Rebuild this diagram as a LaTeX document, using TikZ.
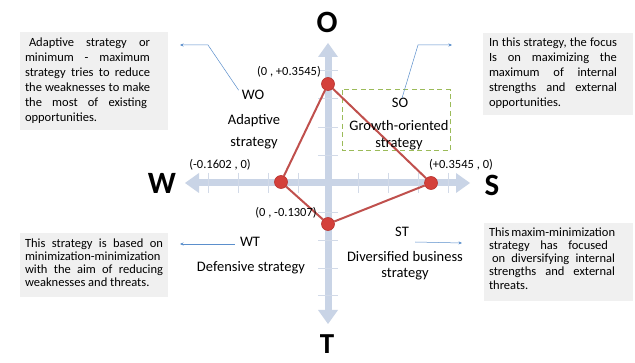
\documentclass[tikz,border=0pt]{standalone}
\usepackage{fontspec}
\setmainfont{Carlito}
\usetikzlibrary{arrows.meta}
\definecolor{axisc}{HTML}{C9D4E6}
\definecolor{tickc}{HTML}{D2DAE8}
\definecolor{boxgray}{HTML}{F0F0F0}
\definecolor{redl}{HTML}{C0504D}
\definecolor{dotfill}{HTML}{D4403B}
\definecolor{dotdraw}{HTML}{B8322E}
\definecolor{connc}{HTML}{5B8FCC}
\definecolor{dashc}{HTML}{9BBB59}
\tikzset{
  dot/.style={circle, fill=dotfill, draw=dotdraw, line width=0.6pt, minimum size=13pt, inner sep=0pt},
  redline/.style={draw=redl, line width=2pt},
  lbl/.style={inner sep=0pt, font=\fontsize{14.5}{17}\selectfont, text height=9.3pt, text depth=0pt},
  clbl/.style={inner sep=0pt, font=\fontsize{12.5}{15}\selectfont, text height=8pt, text depth=0pt},
  bigl/.style={inner sep=0pt, font=\bfseries\fontsize{31}{31}\selectfont, text height=20pt, text depth=0pt},
  tbox/.style={fill=boxgray, inner sep=0pt, outer sep=0pt, anchor=north west},
  conn/.style={draw=connc, line width=0.5pt, -{Stealth[length=3.5pt,width=3pt]}},
  dashbox/.style={draw=dashc, line width=1pt, dash pattern=on 5pt off 3.5pt},
  tickline/.style={draw=tickc, line width=0.8pt}
}
\begin{document}
\begin{tikzpicture}[x=1pt,y=-1pt]
\useasboundingbox[fill=white] (0,0) rectangle (635,363);
% axes
\fill[axisc] (324.5,55) rectangle (331.5,312);
\fill[axisc] (328,43) -- (338,57) -- (318,57) -- cycle;
\fill[axisc] (328,324) -- (338,310) -- (318,310) -- cycle;
\fill[axisc] (197,179.5) rectangle (459,186.5);
\fill[axisc] (185,183) -- (199,173) -- (199,193) -- cycle;
\fill[axisc] (470,183) -- (456,173) -- (456,193) -- cycle;
% ticks
\foreach \ty in {70,98,127,155,212,240,268,295}{\draw[tickline] (318,\ty) -- (338,\ty);}
\foreach \tx in {208,238,268,298,358,388,418,448}{\draw[tickline] (\tx,173) -- (\tx,193);}
% dashed box
\draw[dashbox] (342,90) rectangle (450,151);
% dots and polygon
\node[dot] (pt) at (328,84) {};
\node[dot] (pl) at (281,182) {};
\node[dot] (pr) at (431,183) {};
\node[dot] (pb) at (328,224) {};
\draw[redline] (pt) -- (pr);
\draw[redline] (pr) -- (pb);
\draw[redline] (pb) -- (pl);
\draw[redline] (pl) -- (pt);
% big letters
\node[bigl] (lo) at (327,23) {O};
\node[bigl] (lw) at (162,184) {W};
\node[bigl] (ls) at (492,186) {S};
\node[bigl, font=\bfseries\fontsize{29}{29}\selectfont] (lt) at (327,344) {T};
% coordinate labels
\node[clbl, anchor=east] (ct) at (321,72) {(0 , +0.3545)};
\node[clbl] (cl) at (220,165) {(-0.1602 , 0)};
\node[clbl] (cr) at (461,165) {(+0.3545 , 0)};
\node[clbl] (cb) at (286,213) {(0 , -0.1307)};
% quadrant labels
\node[lbl] (wo) at (253,95) {WO};
\node[lbl] (woa) at (254,120) {Adaptive};
\node[lbl] (wos) at (254,142) {strategy};
\node[lbl] (so) at (400,103) {SO};
\node[lbl] (sog) at (399,126) {Growth-oriented};
\node[lbl] (sos) at (399,143) {strategy};
\node[lbl] (wt) at (250,242) {WT};
\node[lbl] (wtd) at (251,267) {Defensive strategy};
\node[lbl] (st) at (402,232) {ST};
\node[lbl] (std) at (405,257) {Diversified business};
\node[lbl] (sts) at (405,273) {strategy};
% text boxes
\node[tbox] (wobox) at (20,32) {\hspace*{5pt}\parbox[t][98pt][t]{125pt}{\fontsize{12.5}{15}\selectfont\vspace*{4.5pt}%
\strut\hspace*{4pt}\makebox[121pt][s]{Adaptive strategy or}\\
\strut\makebox[125pt][s]{minimum - maximum}\\
\strut\makebox[125pt][s]{strategy tries to reduce}\\
\strut\makebox[125pt][s]{the weaknesses to make}\\
\strut\makebox[122pt][s]{the most of existing}\\
\strut opportunities.}\hspace*{18pt}};
\node[tbox] (sobox) at (483,33) {\hspace*{6pt}\parbox[t][82pt][t]{128pt}{\fontsize{12.5}{15}\selectfont\vspace*{3.5pt}%
\strut\makebox[128pt][s]{In this strategy, the focus}\\
\strut\makebox[128pt][s]{Is on maximizing the}\\
\strut\makebox[128pt][s]{maximum of internal}\\
\strut\makebox[128pt][s]{strengths and external}\\
\strut opportunities.}\hspace*{16pt}};
\node[tbox] (wtbox) at (20,233) {\hspace*{5pt}\parbox[t][64pt][t]{138pt}{\fontsize{12.5}{13.3}\selectfont\vspace*{4.7pt}%
\strut\makebox[138pt][s]{This strategy is based on}\\
\strut\makebox[138pt][s]{minimization-minimization}\\
\strut\makebox[138pt][s]{with the aim of reducing}\\
\strut weaknesses and threats.}\hspace*{5pt}};
\node[tbox] (stbox) at (484,223) {\hspace*{5pt}\parbox[t][78pt][t]{126pt}{\fontsize{12.5}{13.3}\selectfont\vspace*{3.7pt}%
\strut\makebox[126pt][s]{This maxim-minimization}\\
\strut\makebox[119pt][s]{strategy has focused}\\
\strut\hspace*{3pt}\makebox[123pt][s]{on diversifying internal}\\
\strut\makebox[126pt][s]{strengths and external}\\
\strut threats.}\hspace*{18pt}};
% connectors
\coordinate (wob) at (208,45);
\coordinate (woe) at (180,45);
\draw[conn] ([xshift=-3pt]wo.north west) -- (wob) -- (woe);
\coordinate (sob) at (418,45);
\coordinate (soe) at (452,45);
\draw[conn] ([xshift=2pt]so.north) -- (sob) -- (soe);
\coordinate (wte) at (180,244);
\draw[conn] ([xshift=-5pt,yshift=-2pt]wt.west) -- (wte);
\coordinate (ste) at (462,243);
\draw[conn] ([xshift=6pt,yshift=-10pt]st.east) -- (ste);
\end{tikzpicture}
\end{document}
